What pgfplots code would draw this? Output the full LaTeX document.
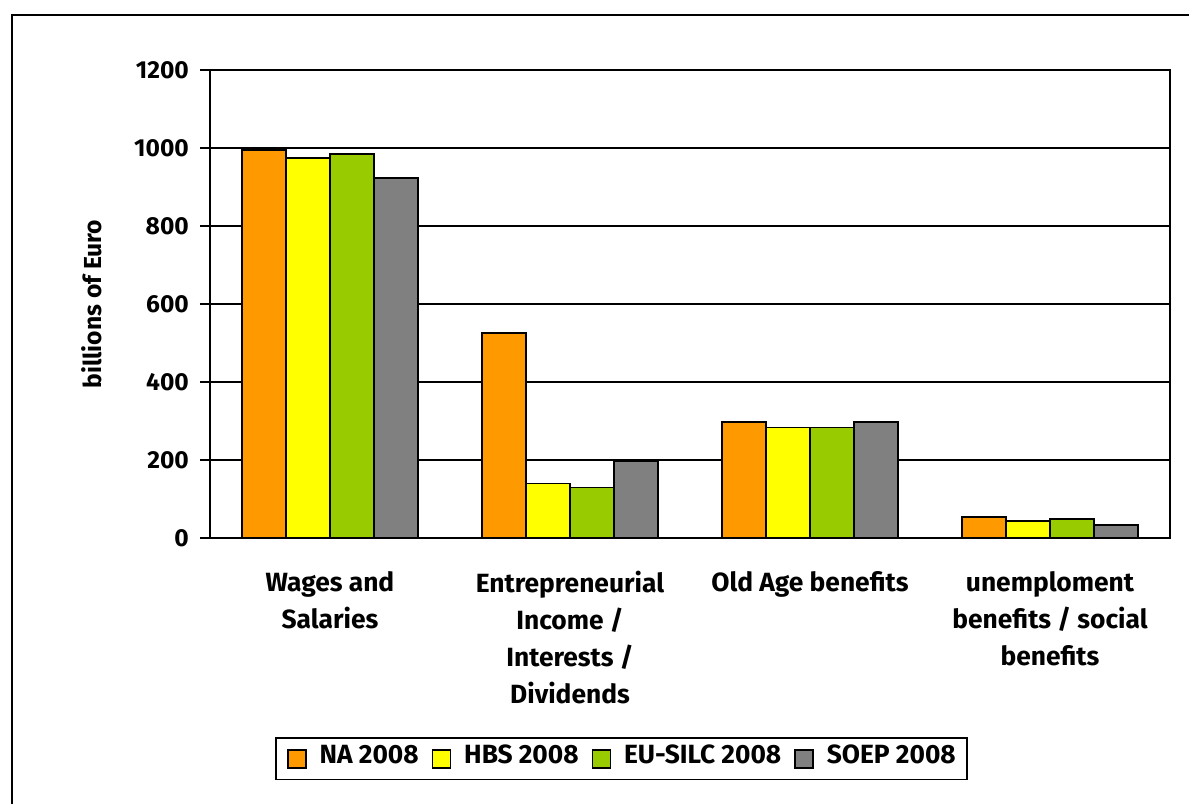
\documentclass[border=0pt]{standalone}
\usepackage{fontspec}
\setmainfont{Fira Sans}
\usepackage{pgfplots}
\pgfplotsset{compat=1.18}

\definecolor{naorange}{RGB}{255,153,0}
\definecolor{hbsyellow}{RGB}{255,255,0}
\definecolor{silcgreen}{RGB}{153,204,0}
\definecolor{soepgray}{RGB}{128,128,128}

\begin{document}
\begin{tikzpicture}
\useasboundingbox (0,0) rectangle (237.8mm,160.8mm);
\draw[line width=0.4mm] (2.4mm,-1mm) -- (2.4mm,157.8mm) -- (239mm,157.8mm);
\begin{axis}[
  at={(42mm,53.2mm)}, anchor=south west,
  scale only axis,
  width=192mm, height=93.6mm,
  ybar=0pt,
  bar width=0.183,
  xmin=-0.5, xmax=3.5,
  ymin=0, ymax=1200,
  ytick={0,200,...,1200},
  xtick={0,1,2,3},
  xticklabels={
    Wages and\\Salaries,
    Entrepreneurial\\Income /\\Interests /\\Dividends,
    Old Age benefits,
    unemploment\\benefits / social\\benefits},
  minor xtick={-0.5,0.5,1.5,2.5,3.5},
  tick align=outside,
  major tick length=2mm,
  minor tick length=2mm,
  xtick style={draw=none},
  minor tick style={black, line width=0.3mm},
  ytick style={black, line width=0.3mm},
  xtick pos=bottom, ytick pos=left,
  ymajorgrids=true,
  grid style={black, line width=0.3mm},
  axis line style={line width=0.4mm},
  /pgf/number format/assume math mode=true,
  /pgf/number format/1000 sep={},
  yticklabel style={font=\bfseries\fontsize{14}{16}\selectfont, xshift=-1mm},
  xticklabel style={font=\bfseries\fontsize{15}{21}\selectfont, align=center, anchor=north, yshift=-3.4mm},
  ylabel={billions of Euro},
  ylabel style={font=\bfseries\fontsize{14}{16}\selectfont, at={(axis description cs:-0.123,0.5)}, anchor=center},
  legend columns=4,
  legend style={at={(0.4286,-0.472)}, anchor=center, draw=black, line width=0.3mm,
    font=\bfseries\fontsize{15}{18}\selectfont,
    inner ysep=2.2mm, inner xsep=2.2mm,
    nodes={inner sep=0pt, text depth=0.25em, text height=0.75em},
    /tikz/every odd column/.append style={column sep=2.6mm},
    /tikz/every even column/.append style={column sep=2.6mm}},
  legend image code/.code={\draw[#1, line width=0.3mm] (0mm,-1.8mm) rectangle (3.6mm,1.8mm);},
]
\addplot[fill=naorange, draw=black, line width=0.3mm] coordinates {(0,995) (1,525) (2,298) (3,54)};
\addplot[fill=hbsyellow, draw=black, line width=0.3mm] coordinates {(0,974) (1,140) (2,283) (3,44)};
\addplot[fill=silcgreen, draw=black, line width=0.3mm] coordinates {(0,985) (1,130) (2,283) (3,49)};
\addplot[fill=soepgray, draw=black, line width=0.3mm] coordinates {(0,923) (1,197) (2,298) (3,33)};
\legend{NA 2008, HBS 2008, EU-SILC 2008, SOEP 2008}
\end{axis}
\end{tikzpicture}
\end{document}
